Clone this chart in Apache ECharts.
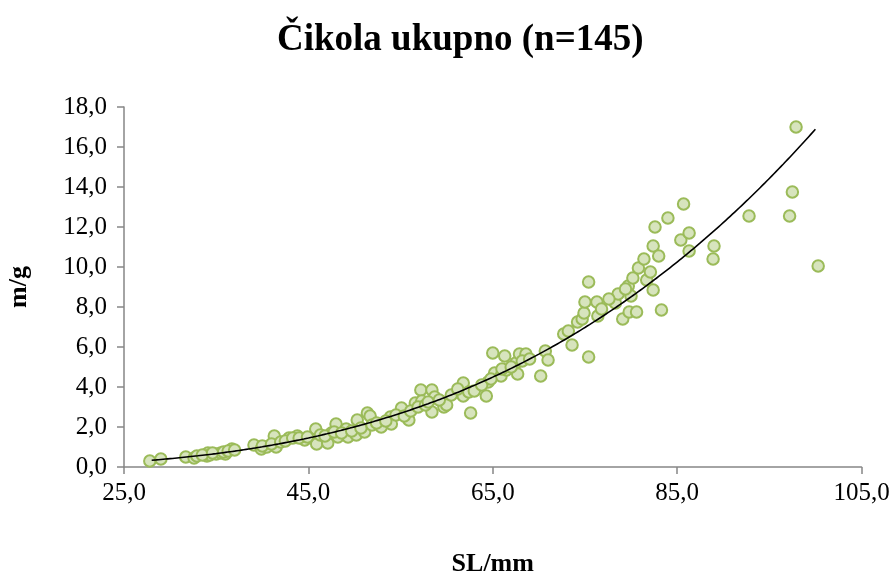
<!DOCTYPE html>
<html>
<head>
<meta charset="utf-8">
<script src="https://cdn.jsdelivr.net/npm/echarts@6/dist/echarts.min.js"></script>
<style>html,body{margin:0;padding:0;background:#fff}#c{width:893px;height:574px}</style>
</head>
<body>
<div id="c"></div>
<script>
// Standard length (mm)
var slValues = [
27.8,29.0,31.7,32.6,32.9,34.0,34.1,34.3,35.0,35.5,36.0,36.7,
39.1,39.9,40.5,41.3,41.5,42.9,43.8,44.6,45.5,45.8,45.9,47.1,47.5,48.0,48.2,49.1,49.3,50.2,
50.3,51.1,51.4,51.7,52.9,53.9,54.0,55.1,55.9,56.6,57.2,57.3,58.4,58.4,58.7,59.7,60.0,
61.8,61.8,62.4,62.6,64.3,64.5,65.0,65.2,65.9,66.3,66.5,67.5,67.7,67.9,68.6,70.2,70.7,71.0,
72.7,73.6,75.4,74.2,74.7,74.9,75.0,75.4,76.3,76.4,78.3,78.6,79.1,79.7,79.8,80.0,80.2,80.6,
80.8,81.4,81.7,82.1,82.4,82.4,83.0,83.3,82.6,84.0,85.4,85.7,86.3,86.3,89.0,88.9,92.8,97.2,
97.5,97.9,100.3,
33.5,35.8,36.3,34.6,37.0,
40.0,41.0,42.0,42.5,43.3,44.0,44.9,
46.3,46.8,47.8,48.6,49.7,50.7,51.9,52.4,53.4,
54.5,55.4,56.1,56.9,57.7,58.0,59.2,
60.5,61.2,63.0,63.8,64.8,66.0,67.0,68.2,69.0,
73.2,76.8,77.6,79.4
];
// Mass (g)
var massValues = [
0.30,0.40,0.50,0.45,0.55,0.55,0.70,0.60,0.65,0.70,0.65,0.90,
1.10,0.90,1.00,1.55,1.00,1.45,1.55,1.35,1.50,1.90,1.15,1.20,1.70,2.15,1.50,1.90,1.50,1.60,
2.35,1.75,2.70,2.55,2.00,2.50,2.15,2.95,2.35,3.20,3.85,3.30,3.85,2.75,3.50,3.00,3.10,
4.20,3.55,3.75,2.70,3.55,4.25,5.70,4.70,4.55,5.55,4.85,5.20,4.65,5.65,5.65,4.55,5.80,5.35,
6.65,6.10,5.50,7.25,7.40,7.70,8.25,9.25,8.25,7.55,8.20,8.65,7.40,9.05,7.75,8.55,9.45,7.75,
9.95,10.40,9.35,9.75,8.85,11.05,10.55,7.85,12.00,12.45,11.35,13.15,11.70,10.80,11.05,10.40,12.55,12.55,
13.75,17.00,10.05,
0.60,0.75,0.80,0.70,0.85,
1.05,1.15,1.25,1.30,1.45,1.45,1.50,
1.60,1.55,1.75,1.70,1.80,1.95,2.10,2.20,2.30,
2.60,2.55,2.80,3.00,3.10,3.25,3.35,
3.60,3.90,3.80,4.10,4.40,4.90,5.00,5.30,5.40,
6.80,7.90,8.40,8.90
];
var xTicks = [25, 45, 65, 85, 105];
var yTicks = [0, 2, 4, 6, 8, 10, 12, 14, 16, 18];
var titleText = 'Čikola ukupno (n=145)';
var xTitle = 'SL/mm';
var yTitle = 'm/g';
var trendRange = [28, 100];

var points = slValues.map(function (x, i) { return [x, massValues[i]]; });

// Power trendline (least squares in log-log space, as a spreadsheet does)
var n = points.length, sx = 0, sy = 0, sxx = 0, sxy = 0;
points.forEach(function (p) {
  var lx = Math.log(p[0]), ly = Math.log(p[1]);
  sx += lx; sy += ly; sxx += lx * lx; sxy += lx * ly;
});
var b = (n * sxy - sx * sy) / (n * sxx - sx * sx);
var a = Math.exp((sy - b * sx) / n);
var trend = [];
for (var x = trendRange[0]; x <= trendRange[1] + 1e-9; x += 0.5) {
  trend.push([x, a * Math.pow(x, b)]);
}

function fmt(v) { return v.toFixed(1).replace('.', ','); }

var chart = echarts.init(document.getElementById('c'));
chart.setOption({
  backgroundColor: '#fff',
  animation: false,
  title: {
    text: titleText,
    left: 272,
    top: 17,
    textStyle: { fontFamily: 'Liberation Serif', fontWeight: 'bold', fontSize: 37, color: '#000' }
  },
  grid: { left: 124, right: 31.5, top: 107, bottom: 107, containLabel: false, outerBoundsMode: 'none' },
  xAxis: {
    type: 'value',
    min: xTicks[0], max: xTicks[xTicks.length - 1], interval: xTicks[1] - xTicks[0],
    name: xTitle, nameLocation: 'middle', nameGap: 84,
    nameTextStyle: { fontFamily: 'Liberation Serif', fontWeight: 'bold', fontSize: 26, color: '#000' },
    axisLine: { lineStyle: { color: '#868686', width: 1.5 } },
    axisTick: { show: true, length: 7, lineStyle: { color: '#868686', width: 1.5 } },
    axisLabel: { formatter: fmt, fontFamily: 'Liberation Serif', fontSize: 25, color: '#000', margin: 14 },
    splitLine: { show: false }
  },
  yAxis: {
    type: 'value',
    min: yTicks[0], max: yTicks[yTicks.length - 1], interval: yTicks[1] - yTicks[0],
    name: yTitle, nameLocation: 'middle', nameGap: 92, nameRotate: 90,
    nameTextStyle: { fontFamily: 'Liberation Serif', fontWeight: 'bold', fontSize: 26, color: '#000' },
    axisLine: { show: true, lineStyle: { color: '#868686', width: 1.5 } },
    axisTick: { show: true, length: 7, lineStyle: { color: '#868686', width: 1.5 } },
    axisLabel: { formatter: fmt, fontFamily: 'Liberation Serif', fontSize: 25, color: '#000', margin: 17 },
    splitLine: { show: false }
  },
  series: [
    {
      type: 'scatter',
      data: points,
      symbol: 'circle',
      symbolSize: 11.5,
      itemStyle: { color: '#d7e4bd', borderColor: '#9bbb59', borderWidth: 2, opacity: 1 }
    },
    {
      type: 'line',
      data: trend,
      showSymbol: false,
      smooth: true,
      lineStyle: { color: '#000', width: 1.6 },
      z: 5
    }
  ]
});
</script>
</body>
</html>
